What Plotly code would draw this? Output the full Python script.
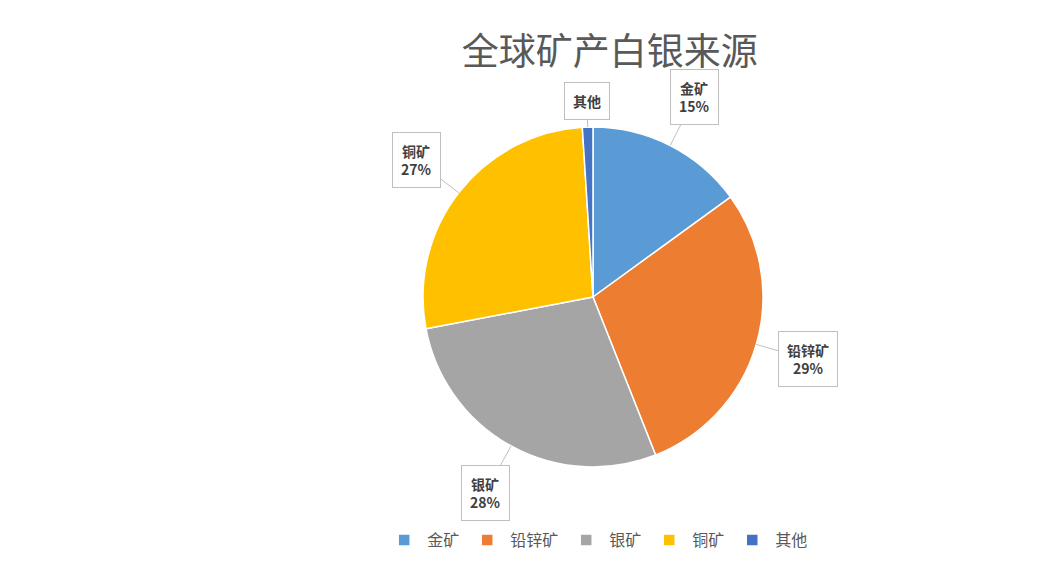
import math
import plotly.graph_objects as go

# 数据
labels = ["金矿", "铅锌矿", "银矿", "铜矿", "其他"]
values = [15, 29, 28, 27, 1]
colors = ["#5B9BD5", "#ED7D31", "#A5A5A5", "#FFC000", "#4472C4"]
show_pct = [True, True, True, True, False]

W, H = 1054, 571
cx, cy, r = 585, 282, 170      # pie centre / radius in pixels (from bottom-left)

fig = go.Figure()
fig.add_trace(go.Pie(
    labels=labels, values=values, sort=False, direction="clockwise",
    rotation=0, textinfo="none", hoverinfo="label+percent",
    marker=dict(colors=colors, line=dict(color="white", width=1.5)),
    domain=dict(x=[(cx - r) / W, (cx + r) / W], y=[(cy - r) / H, (cy + r) / H]),
))

# callout labels at each slice's mid angle
total = sum(values)
acc = 0
annotations = []
for name, v, pct in zip(labels, values, show_pct):
    mid = (acc + v / 2) / total * 2 * math.pi
    acc += v
    sx, sy = math.sin(mid), math.cos(mid)
    txt = f"<b>{name}</b><br><b>{round(v / total * 100)}%</b>" if pct else f"<b>{name}</b>"
    dist = 54 if pct else 26
    annotations.append(dict(
        x=(cx + r * sx) / W, y=(cy + r * sy) / H, xref="paper", yref="paper",
        text=txt, showarrow=True, arrowhead=0, arrowwidth=1, arrowcolor="#bfbfbf",
        ax=dist * sx, ay=-dist * sy,
        font=dict(size=14, color="#404040", family="Noto Sans CJK SC"),
        bgcolor="white", bordercolor="#bfbfbf", borderwidth=1, borderpad=8,
        align="center",
    ))

fig.update_layout(
    width=W, height=H,
    margin=dict(l=0, r=0, t=0, b=0),
    paper_bgcolor="white",
    title=dict(text="全球矿产白银来源", x=0.571, xanchor="center", y=0.923, yanchor="middle",
               font=dict(size=37, color="#595959", family="Noto Sans CJK SC")),
    legend=dict(orientation="h", x=0.559, xanchor="center", y=0.068, yanchor="middle",
                itemwidth=36,
                font=dict(size=16, color="#595959", family="Noto Sans CJK SC")),
    annotations=annotations,
)

fig.write_html("out.html")
